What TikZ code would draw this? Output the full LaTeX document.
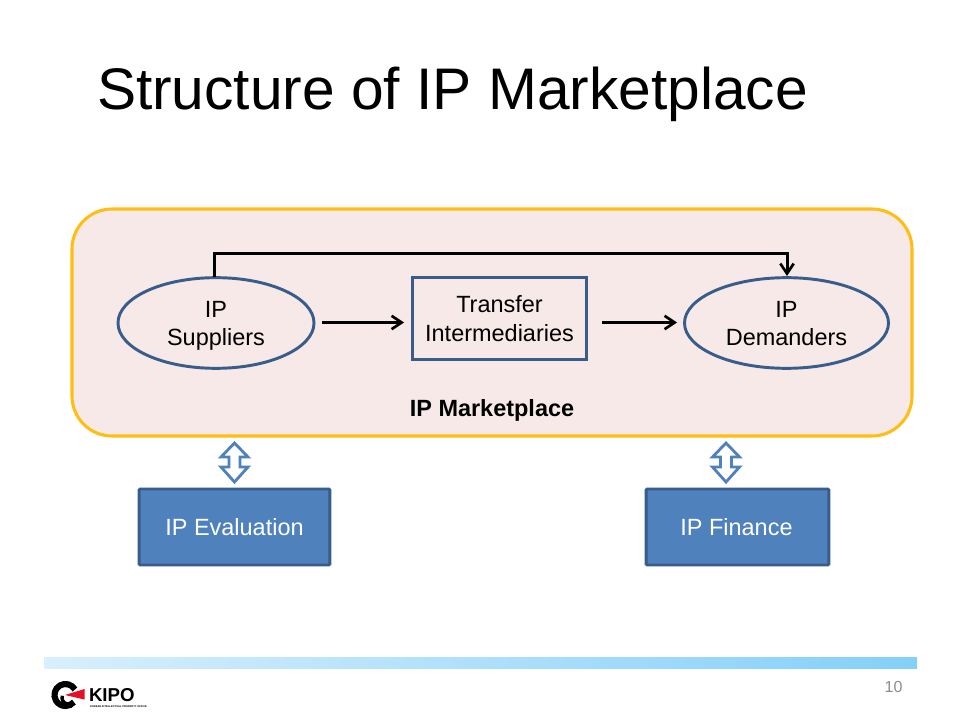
\documentclass[tikz,border=0pt]{standalone}
\usepackage{fontspec}
\setmainfont{Liberation Sans}
\usetikzlibrary{shapes.geometric,arrows.meta}
\definecolor{panelfill}{HTML}{F6E9E7}
\definecolor{panelline}{HTML}{FFBE14}
\definecolor{navy}{HTML}{385D8A}
\definecolor{bluefill}{HTML}{4F81BD}
\definecolor{barleft}{HTML}{D8EFFD}
\definecolor{barright}{HTML}{84D0F9}
\definecolor{pagegrey}{HTML}{8C8C8C}
\definecolor{logored}{HTML}{E60F23}
\tikzset{
  x=0.75pt,y=-0.75pt,
  panel/.style={draw=panelline,fill=panelfill,line width=2.3pt,rounded corners=30pt,minimum width=630pt,minimum height=170.25pt,inner sep=0pt,outer sep=0pt},
  party/.style={ellipse,draw=navy,line width=2.2pt,inner sep=0pt,outer sep=0pt,minimum height=68pt,align=center,font=\fontsize{17.6}{21}\selectfont},
  midbox/.style={draw=navy,line width=2.2pt,inner sep=0pt,outer sep=0pt,minimum width=130pt,minimum height=62pt,align=center,font=\fontsize{17.6}{21.8}\selectfont},
  bluebox/.style={draw=navy,fill=bluefill,line width=2.2pt,rounded corners=0.8pt,inner sep=0pt,outer sep=0pt,minimum height=57pt,text=white,font=\fontsize{17.6}{21}\selectfont},
  flow/.style={draw=black,line width=2.25pt,-{Straight Barb[length=7.5pt,width=10pt,line width=2pt]}},
  hollow/.style={draw=bluefill,fill=white,line width=2.1pt,line join=miter},
  plain/.style={inner sep=0pt,outer sep=0pt}
}
\begin{document}
\begin{tikzpicture}
\useasboundingbox (0,0) rectangle (960,720);
\fill[white] (0,0) rectangle (960,720);
\node[plain,anchor=base west,font=\fontsize{44}{50}\selectfont] (title) at (97,109.5) {Structure of IP Marketplace};
\node[panel] (market) at (492,322.5) {};
\node[plain,font=\bfseries\fontsize{17.6}{21}\selectfont] (marketlabel) at (492,410) {IP Marketplace};
\node[party,minimum width=147pt] (sup) at (216,323) {IP\\\smash{Suppliers}};
\node[midbox] (mid) at (499.5,318.5) {Transfer\\Intermediaries};
\node[party,minimum width=153pt] (dem) at (786.5,323) {IP\\\smash{Demanders}};
\coordinate (a1) at (322,322.5);
\coordinate (a2) at (404,322.5);
\coordinate (b1) at (602,322.5);
\coordinate (b2) at (677,322.5);
\draw[flow] (a1) -- (a2);
\draw[flow] (b1) -- (b2);
\coordinate (c1) at (214,277);
\coordinate (c2) at (787,276);
\draw[flow] (c1) -- (214,253.5) -- (787,253.5) -- (c2);
\node[bluebox,minimum width=143pt] (eval) at (234.5,527) {IP Evaluation};
\node[bluebox,minimum width=137pt] (fin) at (737.5,527) {\hspace{-1.5pt}IP Finance};
\foreach \cx in {234.5,726}{
  \draw[hollow] (\cx,443) -- (\cx+13.5,457) -- (\cx+5.5,457) -- (\cx+5.5,467) -- (\cx+13.5,467) -- (\cx,482) -- (\cx-13.5,467) -- (\cx-5.5,467) -- (\cx-5.5,457) -- (\cx-13.5,457) -- cycle;
}
\shade[left color=barleft,right color=barright] (44,657) rectangle (917,668.5);
\node[plain,text=pagegrey,font=\fontsize{12}{14}\selectfont] (page) at (893.5,687) {10};
% logo
\draw[black,line width=4.6pt] (75,689.5) arc[start angle=-30,end angle=-320,radius=11];
\draw[black,line width=2.5pt] (71,703) arc[start angle=60,end angle=200,radius=6];
\fill[logored] (65,695) -- (84.5,689) -- (84.5,699.5) -- cycle;
\node[plain,anchor=base west,font=\bfseries\fontsize{14}{16}\selectfont] (kipo) at (89,701) {KIPO};
\node[plain,anchor=base west,font=\bfseries\fontsize{1.95}{3}\selectfont] (kipo2) at (90,707) {KOREAN INTELLECTUAL PROPERTY OFFICE};
\end{tikzpicture}
\end{document}
